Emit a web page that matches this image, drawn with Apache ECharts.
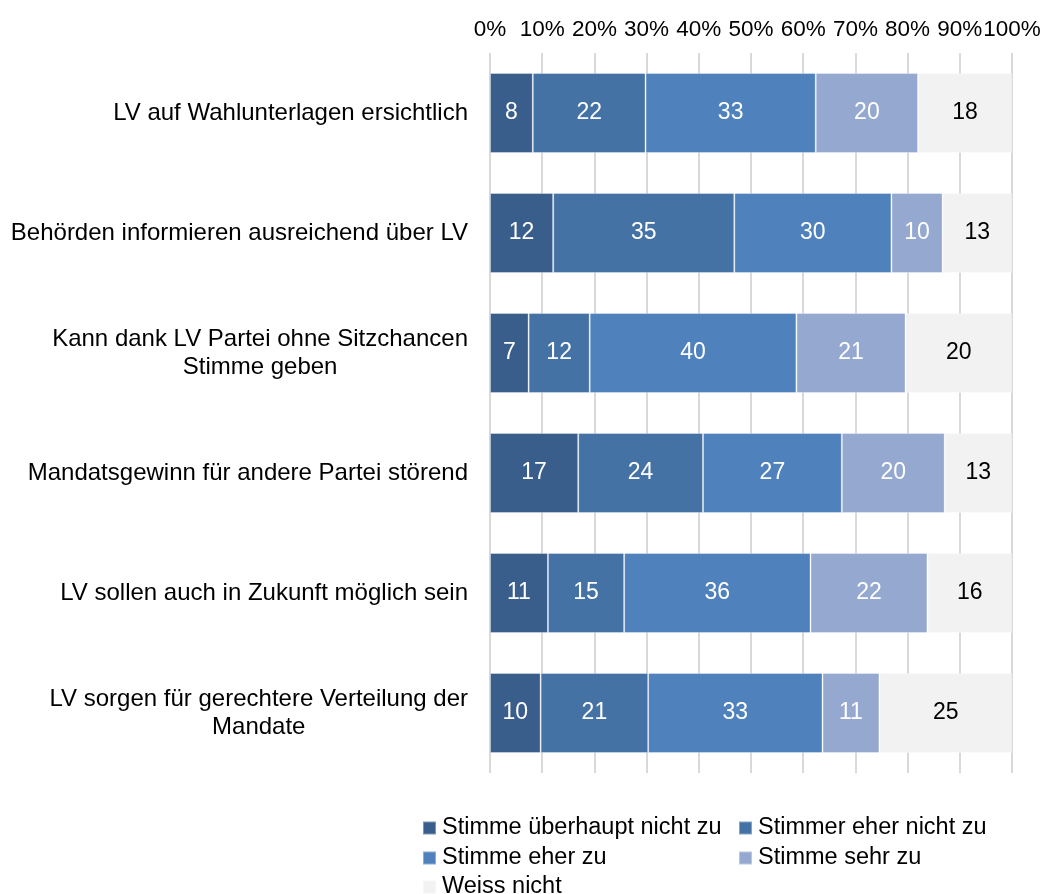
<!DOCTYPE html>
<html>
<head>
<meta charset="utf-8">
<script src="https://cdn.jsdelivr.net/npm/echarts@6/dist/echarts.min.js"></script>
<style>
  html, body { margin: 0; padding: 0; background: #fff; }
  #chart { width: 1044px; height: 894px; }
</style>
</head>
<body>
<div id="chart"></div>
<script>
// Daten
var categories = [
    'LV auf Wahlunterlagen ersichtlich',
    'Behörden informieren ausreichend über LV',
    'Kann dank LV Partei ohne Sitzchancen\nStimme geben',
    'Mandatsgewinn für andere Partei störend',
    'LV sollen auch in Zukunft möglich sein',
    'LV sorgen für gerechtere Verteilung der\nMandate'
];
var seriesNames = ['Stimme überhaupt nicht zu', 'Stimmer eher nicht zu', 'Stimme eher zu', 'Stimme sehr zu', 'Weiss nicht'];
var ueberhauptNicht = [8.2, 12.1, 7.4, 16.9, 11.1, 9.7];
var eherNicht       = [21.6, 34.7, 11.7, 23.9, 14.6, 20.6];
var eherZu          = [32.6, 30.1, 39.6, 26.6, 35.7, 33.4];
var sehrZu          = [19.6, 9.8, 20.9, 19.7, 22.4, 10.9];
var weissNicht      = [18.0, 13.3, 20.4, 12.9, 16.2, 25.4];
var xTickLabels = ['0%', '10%', '20%', '30%', '40%', '50%', '60%', '70%', '80%', '90%', '100%'];

var colors = ['#3a5e8b', '#4572a5', '#4f81bd', '#95a9d0', '#f2f2f2'];
var labelColors = ['#fff', '#fff', '#fff', '#fff', '#000'];
var FONT = 'Liberation Sans, Arial, sans-serif';

var myChart = echarts.init(document.getElementById('chart'));

var values = [ueberhauptNicht, eherNicht, eherZu, sehrZu, weissNicht];
var series = values.map(function (arr, i) {
    return {
        name: seriesNames[i],
        type: 'bar',
        stack: 'total',
        barWidth: '66.7%',
        data: arr,
        itemStyle: {
            color: colors[i],
            borderColor: 'rgba(255,255,255,0.35)',
            borderWidth: 1
        },
        label: {
            show: true,
            position: 'inside',
            color: labelColors[i],
            fontFamily: FONT,
            fontSize: 23,
            formatter: function (p) { return Math.round(p.value); }
        }
    };
});

// Legende: eine pro Eintrag, damit die zwei Spalten sauber stehen
var legendPos = [[417, 811], [733, 811], [417, 841], [733, 841], [417, 870]];
var legends = seriesNames.map(function (name, i) {
    return {
        data: [name],
        left: legendPos[i][0],
        top: legendPos[i][1],
        icon: 'rect',
        itemWidth: 13,
        itemHeight: 13,
        textStyle: { fontFamily: FONT, fontSize: 23.5, color: '#000', padding: [0, 0, 0, 1] }
    };
});

var option = {
    animation: false,
    backgroundColor: '#fff',
    legend: legends,
    grid: { left: 490, right: 32, top: 53, bottom: 121 },
    xAxis: {
        type: 'value',
        position: 'top',
        min: 0,
        max: 100,
        interval: 10,
        axisLine: { show: false },
        axisTick: { show: false },
        splitLine: { show: true, lineStyle: { color: '#d9d9d9', width: 2 } },
        axisLabel: {
            margin: 12,
            color: '#000',
            fontFamily: FONT,
            fontSize: 22.5,
            formatter: function (v, idx) { return xTickLabels[idx]; }
        }
    },
    yAxis: {
        type: 'category',
        inverse: true,
        data: categories,
        axisLine: { show: false },
        axisTick: { show: false },
        axisLabel: {
            margin: 22,
            color: '#000',
            fontFamily: FONT,
            fontSize: 24,
            lineHeight: 28,
            formatter: function (v) {
                return v.split('\n').map(function (l) { return '{c|' + l + '}'; }).join('\n');
            },
            rich: { c: { align: 'center', fontFamily: FONT, fontSize: 24, color: '#000', lineHeight: 28 } }
        }
    },
    series: series
};

myChart.setOption(option, true);
</script>
</body>
</html>
